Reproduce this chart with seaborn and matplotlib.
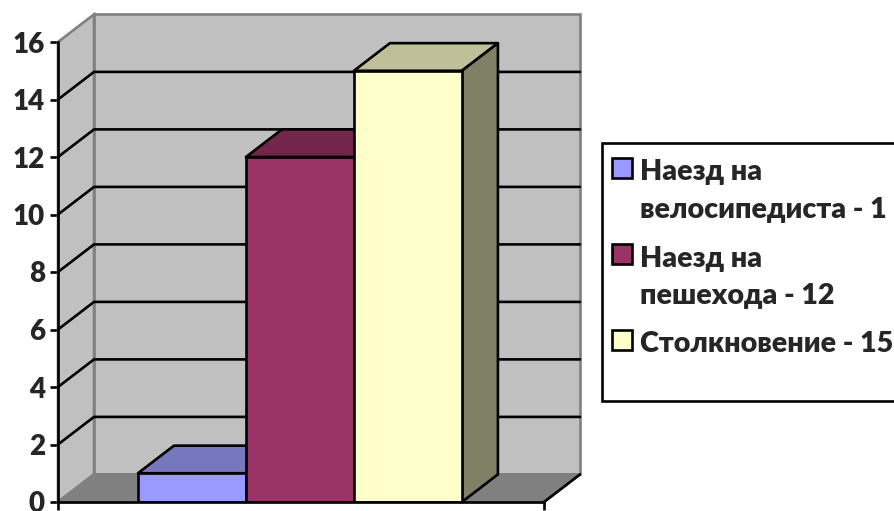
import pandas as pd
import seaborn as sns
import matplotlib
matplotlib.use('Agg')
import matplotlib.pyplot as plt
from matplotlib.patches import Rectangle

# Values
categories = ['Наезд на велосипедиста', 'Наезд на пешехода', 'Столкновение']
counts = [1, 12, 15]
legend_lines = [['Наезд на', 'велосипедиста - 1'], ['Наезд на', 'пешехода - 12'], ['Столкновение - 15']]
y_ticks = [0, 2, 4, 6, 8, 10, 12, 14, 16]

front_colors = ['#9999FF', '#993366', '#FFFFCC']
top_colors = ['#7777BD', '#73264C', '#BFBF99']
side_colors = ['#4D4D80', '#4D1A33', '#808066']

sns.set_style('white')
plt.rcParams['font.family'] = ['Lato', 'Noto Sans']
plt.rcParams['font.weight'] = 'heavy'

W, H = 895, 511
LW = 1.9
fig = plt.figure(figsize=(W / 100, H / 100), dpi=100)
ax = fig.add_axes([58 / W, 1 - 502 / H, 486 / W, 460 / H])

data = pd.DataFrame({'category': categories, 'count': counts})
sns.barplot(data=data, x='category', y='count', hue='category', palette=front_colors,
            width=1, edgecolor='black', linewidth=LW, saturation=1, legend=False, ax=ax, zorder=6)
bars = list(ax.patches)

x0, x1 = -1.24, 3.26
ax.set_xlim(x0, x1)
ax.set_ylim(0, 16)

# fake 3d depth, in data units
dx = 36 / 108
dy = 0.96

# walls and floor
ax.fill([x0 + dx, x1 + dx, x1 + dx, x0 + dx], [dy, dy, 16 + dy, 16 + dy], fc='#C0C0C0', ec='#808080', lw=LW, clip_on=False, zorder=1)
ax.fill([x0, x0 + dx, x0 + dx, x0], [0, dy, 16 + dy, 16], fc='#C0C0C0', ec='#808080', lw=LW, clip_on=False, zorder=1)
ax.fill([x0, x0 + dx, x1 + dx, x1], [0, dy, dy, 0], fc='#808080', ec='#808080', lw=LW, clip_on=False, zorder=1)
ax.plot([x1, x1 + dx], [0, dy], color='black', lw=LW, clip_on=False, zorder=2)

# gridlines on both walls
for t in y_ticks[1:-1]:
    ax.plot([x0, x0 + dx, x1 + dx], [t, t + dy, t + dy], color='black', lw=LW, clip_on=False, zorder=2)

# side and top faces of the columns
for i, bar in enumerate(bars):
    left = bar.get_x()
    right = left + bar.get_width()
    top = bar.get_height()
    ax.fill([left, left + dx, right + dx, right], [top, top + dy, top + dy, top],
            fc=top_colors[i], ec='black', lw=LW, clip_on=False, joinstyle='round', zorder=3)
    ax.fill([right, right + dx, right + dx, right], [0, dy, top + dy, top],
            fc=side_colors[i], ec='black', lw=LW, clip_on=False, joinstyle='round', zorder=3)

sns.despine(ax=ax, top=True, right=True)
for s in ['left', 'bottom']:
    ax.spines[s].set_linewidth(LW)
    ax.spines[s].set_color('black')
    ax.spines[s].set_zorder(7)

ax.set_xlabel('')
ax.set_ylabel('')
ax.set_xticks([x0, x1])
ax.set_xticklabels(['', ''])
ax.set_yticks(y_ticks)
ax.tick_params(axis='both', left=True, bottom=True, length=6, width=LW, color='black', labelsize=20, pad=3.5)
ax.patch.set_alpha(0)

# legend box, runs off the right edge like the original
fig.add_artist(Rectangle((602 / W, 1 - 401 / H), 320 / W, 258 / H, transform=fig.transFigure,
                         fc='white', ec='black', lw=LW))
swatch_tops = [158, 244, 330]
text_ys = [[172, 210], [259, 296], [344]]
for i in range(3):
    fig.add_artist(Rectangle((612 / W, 1 - (swatch_tops[i] + 20) / H), 20 / W, 20 / H, transform=fig.transFigure,
                             fc=front_colors[i], ec='black', lw=LW))
    for line, y in zip(legend_lines[i], text_ys[i]):
        fig.text(640 / W, 1 - y / H, line, fontsize=20.6, fontweight='heavy', va='center', ha='left')

fig.savefig('out.png', dpi=100)
